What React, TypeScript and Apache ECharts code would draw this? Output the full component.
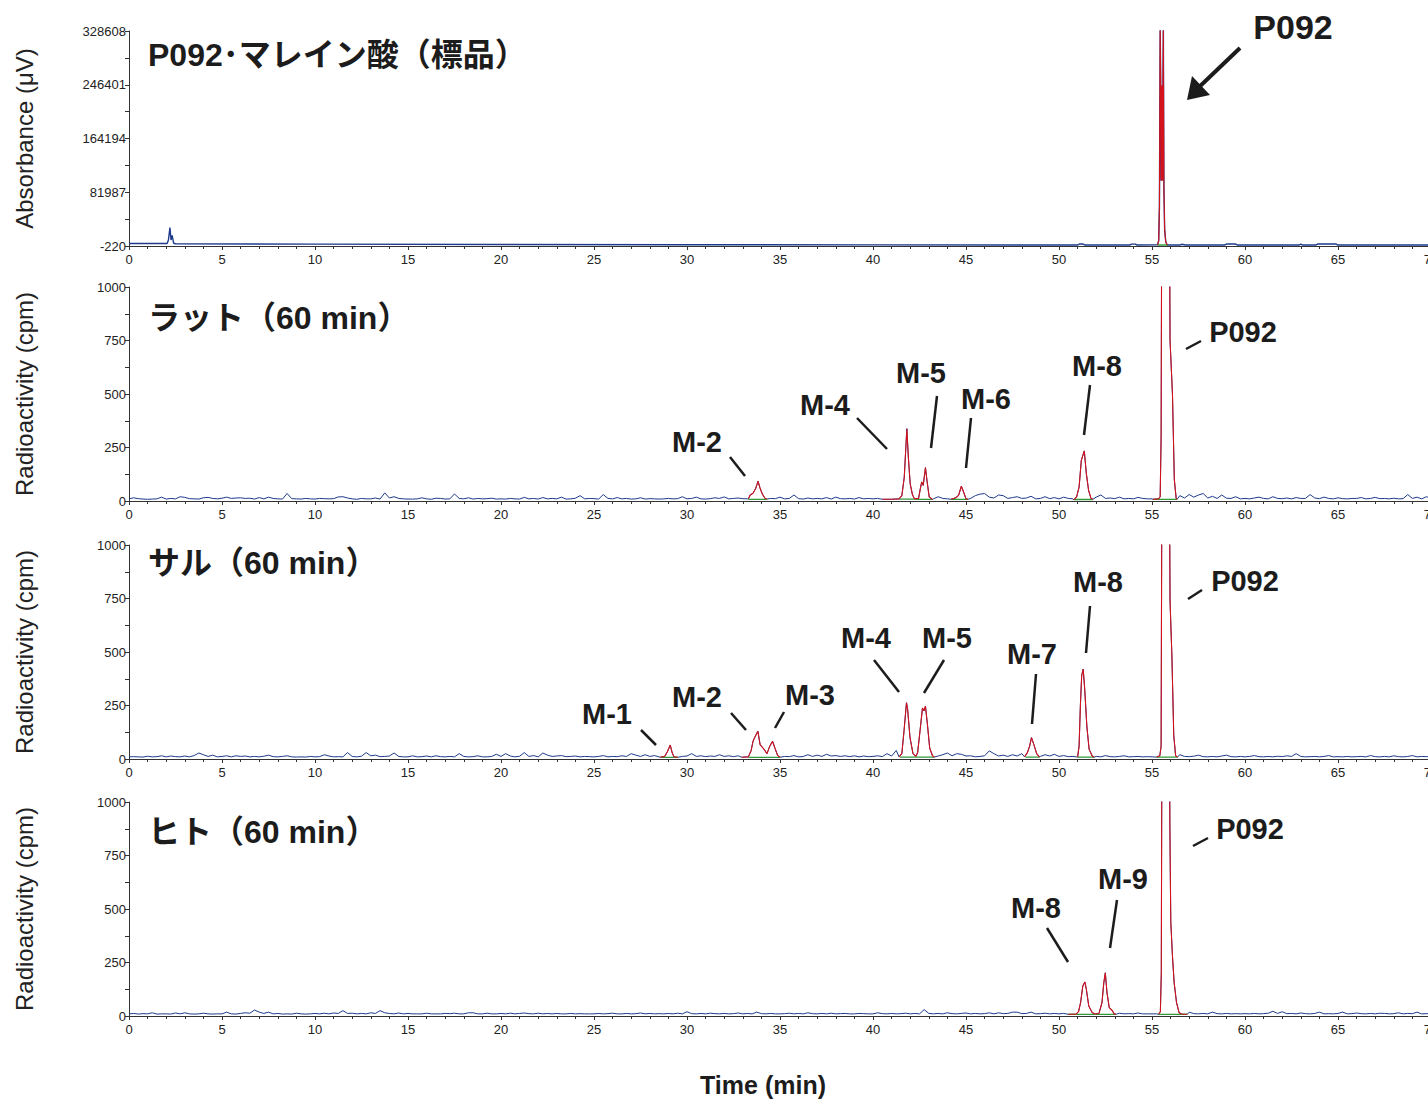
import React, { useEffect, useRef } from "react";
import * as echarts from "echarts";

// ---------------- DATA ----------------
const STEP = 0.25; // sampling step (min) of the hand-read baseline arrays
const timeTicks = [0, 5, 10, 15, 20, 25, 30, 35, 40, 45, 50, 55, 60, 65, 70];
const absTickLabels = [-220, 81987, 164194, 246401, 328608];
const absMinorTicks = [40883.5, 123090.5, 205297.5, 287504.5];
const cpmTickLabels = [0, 250, 500, 750, 1000];

// Panel 1: UV absorbance (µV), [time, value]
const uvBaseline: [number, number][] = [
  [0, 3500], [2.05, 3500], [2.12, 9000], [2.2, 28000], [2.26, 9000], [2.32, 16000], [2.4, 4000], [2.5, 3200],
  [10, 2600], [20, 2000], [30, 1700], [40, 1500], [50, 1400], [51.0, 1400], [51.1, 2800], [51.3, 2800], [51.4, 1300],
  [53.8, 1300], [53.9, 2600], [54.1, 2600], [54.2, 1300], [56.5, 1300], [56.6, 2400], [56.8, 1300],
  [58.9, 1300], [59.0, 2800], [59.5, 2800], [59.6, 1200], [62.9, 1200], [63.0, 2600], [63.1, 1200],
  [63.8, 1200], [63.9, 2800], [64.9, 2800], [65.0, 1200], [70, 1200],
];
const uvPeakP092: [number, number][] = [
  [55.30, 1500], [55.36, 8000], [55.40, 60000], [55.44, 330000], [55.47, 245000], [55.49, 100000],
  [55.51, 245000], [55.53, 100000], [55.55, 245000], [55.57, 100000], [55.59, 245000], [55.61, 330000],
  [55.64, 90000], [55.68, 25000], [55.74, 6000], [55.82, 1300],
];
const uvIntegration: [number, number, number][] = [[55.3, 55.85, 1300]];

// Panel 2: rat (cpm), baseline every 0.25 min
const ratNoise = [
  10, 15, 11, 9, 8, 9, 10, 18, 9, 12, 10, 20, 17, 11, 10, 9, 15, 17, 12, 10,
  13, 18, 12, 14, 15, 12, 13, 9, 16, 10, 18, 12, 10, 9, 35, 11, 10, 9, 12, 10,
  9, 12, 11, 10, 11, 19, 20, 14, 10, 8, 12, 10, 10, 14, 9, 38, 14, 20, 12, 10,
  9, 9, 10, 15, 10, 8, 13, 12, 9, 10, 33, 12, 10, 15, 9, 12, 10, 11, 13, 9,
  10, 9, 12, 10, 9, 17, 10, 12, 9, 16, 10, 12, 10, 18, 9, 10, 13, 25, 10, 12,
  11, 9, 30, 12, 10, 16, 10, 12, 9, 10, 15, 9, 11, 10, 9, 10, 12, 10, 11, 20,
  10, 12, 18, 10, 9, 11, 15, 12, 19, 10, 12, 14, 11, 10, 10, 10, 10, 10, 12, 11,
  18, 10, 12, 28, 11, 9, 14, 10, 12, 10, 16, 9, 18, 11, 10, 12, 9, 16, 10, 12,
  10, 12, 10, 10, 10, 10, 10, 10, 10, 10, 10, 10, 10, 10, 20, 12, 10, 10, 10, 10,
  10, 12, 25, 32, 35, 18, 14, 28, 25, 12, 16, 20, 12, 14, 22, 10, 12, 20, 11, 16,
  10, 18, 12, 10, 10, 10, 10, 10, 18, 28, 12, 14, 11, 18, 10, 12, 10, 17, 12, 10,
  10, 10, 10, 10, 10, 10, 25, 14, 30, 18, 28, 35, 14, 22, 12, 28, 13, 12, 20, 10,
  12, 10, 14, 18, 12, 10, 20, 12, 11, 14, 10, 16, 12, 12, 30, 14, 11, 18, 12, 10,
  15, 11, 10, 12, 12, 16, 10, 12, 17, 11, 12, 10, 13, 10, 11, 30, 12, 18, 10, 20,
  12,
];
const ratM2: [number, number][] = [[33.3, 10], [33.4, 28], [33.55, 36], [33.7, 60], [33.82, 93], [33.92, 62], [34.05, 33], [34.2, 12], [34.3, 9]];
const ratM4M5: [number, number][] = [[40.5, 8], [41.0, 8], [41.4, 10], [41.55, 25], [41.68, 110], [41.82, 338], [41.9, 205], [42.0, 80], [42.12, 30], [42.22, 11], [42.45, 12], [42.55, 60], [42.62, 89], [42.7, 73], [42.82, 156], [42.9, 97], [43.02, 19], [43.2, 7]];
const ratM6: [number, number][] = [[44.2, 8], [44.45, 15], [44.6, 26], [44.75, 69], [44.87, 42], [45.0, 10], [45.1, 8]];
const ratM8: [number, number][] = [[50.8, 5], [50.95, 20], [51.08, 65], [51.2, 190], [51.36, 234], [51.47, 128], [51.59, 50], [51.72, 12], [51.82, 8]];
const ratP092: [number, number][] = [[55.05, 8], [55.35, 10], [55.44, 20], [55.49, 300], [55.53, 1600], [55.75, 2000], [55.93, 1600], [55.97, 750], [56.1, 500], [56.2, 100], [56.3, 12], [56.35, 8]];
const ratIntegration: [number, number, number][] = [[33.3, 34.3, 8], [41.4, 42.3, 9], [42.3, 43.2, 8], [44.2, 45.1, 8], [50.8, 51.82, 7], [55.05, 56.35, 8]];

// Panel 3: monkey (cpm)
const monkeyNoise = [
  10, 11, 10, 9, 13, 10, 11, 15, 10, 14, 11, 10, 14, 10, 16, 28, 20, 12, 18, 10,
  12, 15, 10, 15, 12, 14, 10, 12, 10, 13, 18, 11, 10, 12, 15, 10, 9, 10, 9, 12,
  10, 11, 20, 14, 10, 11, 10, 30, 12, 10, 13, 30, 15, 18, 11, 12, 14, 28, 12, 10,
  10, 15, 10, 11, 14, 10, 15, 11, 10, 12, 10, 25, 12, 10, 11, 15, 10, 10, 12, 22,
  12, 25, 14, 10, 13, 30, 12, 16, 10, 28, 18, 12, 14, 16, 11, 12, 14, 10, 12, 11,
  10, 12, 16, 10, 12, 11, 15, 12, 25, 18, 12, 20, 12, 16, 10, 10, 10, 10, 10, 12,
  14, 25, 12, 15, 11, 14, 12, 20, 12, 15, 11, 15, 10, 10, 10, 10, 10, 10, 10, 10,
  10, 12, 11, 16, 10, 12, 20, 12, 18, 12, 22, 14, 16, 12, 15, 11, 15, 10, 14, 11,
  12, 15, 11, 25, 14, 40, 10, 10, 10, 10, 10, 10, 10, 10, 14, 20, 28, 15, 25, 22,
  14, 15, 10, 12, 15, 38, 25, 14, 18, 12, 20, 14, 25, 10, 10, 10, 12, 20, 14, 22,
  12, 16, 11, 12, 10, 10, 10, 10, 12, 10, 16, 11, 10, 12, 15, 10, 11, 12, 10, 11,
  10, 10, 10, 10, 10, 10, 20, 12, 11, 13, 18, 11, 10, 12, 10, 14, 18, 11, 10, 12,
  10, 12, 16, 11, 10, 12, 10, 13, 11, 15, 12, 25, 12, 10, 11, 12, 10, 12, 16, 10,
  11, 10, 12, 10, 11, 12, 10, 16, 11, 10, 12, 10, 15, 11, 10, 12, 16, 10, 12, 11,
  11,
];
const monkeyM1: [number, number][] = [[28.55, 8], [28.8, 12], [28.95, 35], [29.1, 65], [29.2, 30], [29.3, 10], [29.5, 8]];
const monkeyM2M3: [number, number][] = [[32.95, 8], [33.3, 10], [33.45, 40], [33.55, 83], [33.68, 108], [33.81, 130], [33.93, 67], [34.1, 50], [34.3, 25], [34.45, 60], [34.6, 83], [34.73, 50], [34.87, 17], [35.0, 8]];
const monkeyM4M5: [number, number][] = [[41.4, 10], [41.55, 25], [41.67, 133], [41.8, 263], [41.86, 233], [41.99, 100], [42.15, 25], [42.3, 12], [42.4, 30], [42.53, 133], [42.66, 238], [42.74, 225], [42.82, 247], [42.92, 167], [43.05, 50], [43.2, 15], [43.3, 9]];
const monkeyM7: [number, number][] = [[48.15, 10], [48.3, 30], [48.42, 60], [48.52, 100], [48.65, 67], [48.8, 25], [48.95, 9]];
const monkeyM8: [number, number][] = [[51.0, 9], [51.08, 60], [51.15, 250], [51.22, 390], [51.3, 420], [51.38, 330], [51.5, 150], [51.62, 45], [51.8, 12], [51.9, 9]];
const monkeyP092: [number, number][] = [[55.25, 9], [55.42, 15], [55.49, 60], [55.54, 1600], [55.75, 2000], [55.92, 1600], [55.97, 740], [56.07, 480], [56.17, 110], [56.27, 15], [56.37, 9]];
const monkeyIntegration: [number, number, number][] = [[28.6, 29.5, 8], [33.3, 34.35, 8], [34.35, 35.0, 8], [41.45, 42.3, 9], [42.3, 43.3, 9], [48.2, 48.95, 9], [51.0, 51.9, 9], [55.25, 56.37, 9]];

// Panel 4: human (cpm)
const humanNoise = [
  10, 12, 9, 11, 10, 15, 9, 10, 10, 9, 14, 10, 15, 10, 9, 10, 13, 10, 9, 10,
  10, 18, 10, 9, 12, 15, 13, 28, 18, 12, 18, 10, 12, 9, 10, 9, 13, 10, 9, 10,
  12, 10, 13, 10, 14, 12, 25, 12, 13, 10, 12, 10, 15, 12, 25, 15, 12, 10, 14, 10,
  12, 10, 10, 10, 13, 10, 10, 10, 12, 11, 13, 10, 10, 15, 15, 10, 10, 13, 10, 10,
  12, 10, 13, 10, 12, 14, 11, 10, 13, 10, 12, 10, 12, 10, 10, 12, 10, 11, 10, 10,
  10, 12, 10, 11, 13, 10, 10, 12, 10, 11, 14, 10, 12, 10, 11, 10, 12, 10, 13, 10,
  20, 11, 10, 12, 10, 13, 11, 10, 12, 10, 11, 14, 10, 12, 10, 18, 11, 10, 12, 10,
  10, 11, 13, 10, 12, 10, 15, 11, 10, 12, 10, 13, 10, 11, 12, 10, 10, 12, 11, 10,
  10, 15, 11, 10, 12, 10, 11, 13, 10, 12, 10, 30, 12, 10, 12, 10, 15, 11, 10, 12,
  14, 10, 12, 10, 11, 15, 10, 15, 11, 12, 18, 18, 11, 12, 18, 10, 11, 13, 10, 12,
  10, 12, 10, 10, 10, 10, 10, 10, 10, 10, 10, 10, 10, 13, 10, 11, 10, 14, 10, 10,
  10, 10, 10, 10, 10, 10, 10, 10, 18, 11, 10, 12, 10, 18, 11, 10, 12, 10, 11, 10,
  11, 10, 12, 10, 11, 13, 22, 12, 20, 11, 12, 10, 14, 11, 10, 12, 18, 10, 11, 10,
  12, 18, 10, 11, 14, 11, 10, 12, 10, 13, 12, 10, 11, 15, 10, 12, 11, 18, 10, 11,
  11,
];
const humanM8M9: [number, number][] = [[50.5, 8], [50.9, 8], [51.05, 20], [51.16, 62], [51.28, 140], [51.39, 159], [51.47, 125], [51.6, 47], [51.79, 15], [51.95, 9], [52.15, 12], [52.31, 62], [52.41, 156], [52.49, 202], [52.58, 109], [52.7, 39], [52.84, 28], [52.97, 10], [53.07, 8]];
const humanP092: [number, number][] = [[55.35, 8], [55.45, 20], [55.5, 200], [55.54, 1600], [55.75, 2000], [55.93, 1600], [55.96, 900], [56.01, 440], [56.1, 280], [56.19, 156], [56.32, 62], [56.46, 15], [56.62, 8], [56.9, 8]];
const humanIntegration: [number, number, number][] = [[50.5, 51.95, 8], [51.95, 53.07, 8], [55.35, 56.9, 8]];

// ---------------- TEXT ----------------
const panelTitles = ["P092･マレイン酸（標品）", "ラット（60 min）", "サル（60 min）", "ヒト（60 min）"];
const yTitles = ["Absorbance (μV)", "Radioactivity (cpm)", "Radioactivity (cpm)", "Radioactivity (cpm)"];
const xTitle = "Time (min)";

// annotation labels: [text, cx, cy, x1, y1, x2, y2]
const annotations: [string, number, number, number, number, number, number][] = [
  ["M-2", 697, 442, 730, 457, 745, 476],
  ["M-4", 825, 405, 857, 418, 887, 449],
  ["M-5", 921, 373, 937, 396, 931, 448],
  ["M-6", 986, 399, 971, 418, 966, 468],
  ["M-8", 1097, 366, 1090, 385, 1084, 435],
  ["P092", 1243, 332, 1186, 349, 1201, 341],
  ["M-1", 607, 714, 641, 730, 656, 745],
  ["M-2", 697, 697, 731, 713, 746, 730],
  ["M-3", 810, 695, 784, 712, 775, 728],
  ["M-4", 866, 638, 874, 660, 899, 692],
  ["M-5", 947, 638, 944, 660, 924, 693],
  ["M-7", 1032, 654, 1036, 674, 1032, 724],
  ["M-8", 1098, 582, 1090, 606, 1086, 653],
  ["P092", 1245, 581, 1188, 599, 1202, 590],
  ["M-8", 1036, 908, 1047, 928, 1068, 962],
  ["M-9", 1123, 879, 1117, 900, 1110, 948],
  ["P092", 1250, 829, 1193, 846, 1208, 838],
];

// ---------------- LAYOUT / STYLE ----------------
const FONT = "'Liberation Sans', Arial, 'Noto Sans CJK JP', sans-serif";
const BLUE = "#1d3a8c";
const RED = "#d3121c";
const GREEN = "#2f9a3a";
const INK = "#1c1c1c";
const GRID_LEFT = 129;
const GRID_WIDTH = 1302;
const grids = [
  { top: 31, height: 215 },
  { top: 287, height: 214 },
  { top: 545, height: 214 },
  { top: 802, height: 214 },
];

type Pt = [number, number];

function noiseToPts(noise: number[]): Pt[] {
  return noise.map((v, i) => [i * STEP, v] as Pt);
}

function buildTrace(base: Pt[], peaks: Pt[][]): Pt[] {
  const ranges = peaks.map((p) => [p[0][0], p[p.length - 1][0]]);
  const pts: Pt[] = base.filter(([t]) => !ranges.some(([a, b]) => t >= a && t <= b));
  peaks.forEach((p) => pts.push(...p));
  pts.sort((a, b) => a[0] - b[0]);
  return pts;
}

const panels = [
  { base: uvBaseline, peaks: [uvPeakP092], integ: uvIntegration },
  { base: noiseToPts(ratNoise), peaks: [ratM2, ratM4M5, ratM6, ratM8, ratP092], integ: ratIntegration },
  { base: noiseToPts(monkeyNoise), peaks: [monkeyM1, monkeyM2M3, monkeyM4M5, monkeyM7, monkeyM8, monkeyP092], integ: monkeyIntegration },
  { base: noiseToPts(humanNoise), peaks: [humanM8M9, humanP092], integ: humanIntegration },
];

export default function App() {
  const ref = useRef<HTMLDivElement>(null);

  useEffect(() => {
    if (!ref.current) return;
    const chart = echarts.init(ref.current, undefined, { renderer: "svg" });

    const series: any[] = [];
    panels.forEach((p, k) => {
      series.push({
        type: "line", xAxisIndex: k, yAxisIndex: k, data: buildTrace(p.base, p.peaks),
        symbol: "none", lineStyle: { color: BLUE, width: k === 0 ? 1.4 : 1 }, z: 2, silent: true,
      });
      p.integ.forEach(([a, b, v]) => {
        series.push({
          type: "line", xAxisIndex: k, yAxisIndex: k, data: [[a, v], [b, v]],
          symbol: "none", lineStyle: { color: GREEN, width: 1.3 }, z: 3, silent: true,
        });
      });
      p.peaks.forEach((pk) => {
        series.push({
          type: "line", xAxisIndex: k, yAxisIndex: k, data: pk,
          symbol: "none", lineStyle: { color: RED, width: 1.1 }, z: 4, silent: true,
        });
      });
    });

    const axisLineStyle = { color: "#333", width: 1 };
    const xAxes = grids.map((_, k) => ({
      type: "value", gridIndex: k, min: timeTicks[0], max: timeTicks[timeTicks.length - 1], interval: 5,
      axisLine: { show: true, onZero: false, lineStyle: axisLineStyle },
      axisTick: { show: true, length: 4, lineStyle: axisLineStyle },
      minorTick: { show: true, splitNumber: 5, length: 3, lineStyle: axisLineStyle },
      axisLabel: { fontSize: 13, color: "#222", margin: 7, fontFamily: FONT, hideOverlap: false },
      splitLine: { show: false }, minorSplitLine: { show: false },
    }));
    const yAxes: any[] = grids.map((_, k) => {
      if (k === 0) {
        return {
          type: "value", gridIndex: 0, min: absTickLabels[0], max: absTickLabels[absTickLabels.length - 1],
          axisLine: { show: true, onZero: false, lineStyle: axisLineStyle },
          axisTick: { show: true, length: 4, lineStyle: axisLineStyle, customValues: [...absTickLabels, ...absMinorTicks] },
          axisLabel: {
            customValues: absTickLabels, fontSize: 13, color: "#222", margin: 3, fontFamily: FONT,
            formatter: (v: number) => String(v),
          },
          splitLine: { show: false },
        };
      }
      return {
        type: "value", gridIndex: k, min: cpmTickLabels[0], max: cpmTickLabels[cpmTickLabels.length - 1], interval: 125,
        axisLine: { show: true, onZero: false, lineStyle: axisLineStyle },
        axisTick: { show: true, length: 4, lineStyle: axisLineStyle },
        axisLabel: {
          fontSize: 13, color: "#222", margin: 3, fontFamily: FONT,
          formatter: (v: number) => (cpmTickLabels.includes(v) ? String(v) : ""),
        },
        splitLine: { show: false },
      };
    });

    const graphics: any[] = [];
    const titleY = [55, 318, 563, 832];
    panelTitles.forEach((t, k) => {
      graphics.push({
        type: "text", x: 148, y: titleY[k],
        style: { text: t, fill: INK, font: `bold 32px ${FONT}`, align: "left", verticalAlign: "middle" },
      });
    });
    yTitles.forEach((t, k) => {
      graphics.push({
        type: "text", x: 24, y: grids[k].top + grids[k].height / 2, rotation: Math.PI / 2,
        style: { text: t, fill: "#222", font: `24px ${FONT}`, align: "center", verticalAlign: "middle" },
      });
    });
    graphics.push({
      type: "text", x: 763, y: 1085,
      style: { text: xTitle, fill: INK, font: `bold 25px ${FONT}`, align: "center", verticalAlign: "middle" },
    });
    annotations.forEach(([t, cx, cy, x1, y1, x2, y2]) => {
      graphics.push({
        type: "text", x: cx, y: cy,
        style: { text: t, fill: INK, font: `bold 29px ${FONT}`, align: "center", verticalAlign: "middle" },
      });
      graphics.push({
        type: "line", shape: { x1, y1, x2, y2 }, style: { stroke: INK, lineWidth: 2.5 },
      });
    });
    // panel 1 label + arrow
    graphics.push({
      type: "text", x: 1293, y: 27,
      style: { text: "P092", fill: INK, font: `bold 34px ${FONT}`, align: "center", verticalAlign: "middle" },
    });
    graphics.push({ type: "line", shape: { x1: 1240, y1: 48, x2: 1196, y2: 90 }, style: { stroke: INK, lineWidth: 4 } });
    graphics.push({ type: "polygon", shape: { points: [[1187, 100], [1192, 76], [1210, 95]] }, style: { fill: INK } });

    chart.setOption({
      animation: false,
      backgroundColor: "#ffffff",
      textStyle: { fontFamily: FONT },
      grid: grids.map((g) => ({
        left: GRID_LEFT, width: GRID_WIDTH, top: g.top, height: g.height,
        containLabel: false, outerBoundsMode: "none",
      })),
      xAxis: xAxes,
      yAxis: yAxes,
      series,
      graphic: graphics,
    });

    return () => chart.dispose();
  }, []);

  return <div ref={ref} style={{ position: "absolute", left: 0, top: 0, width: 1428, height: 1100 }} />;
}
